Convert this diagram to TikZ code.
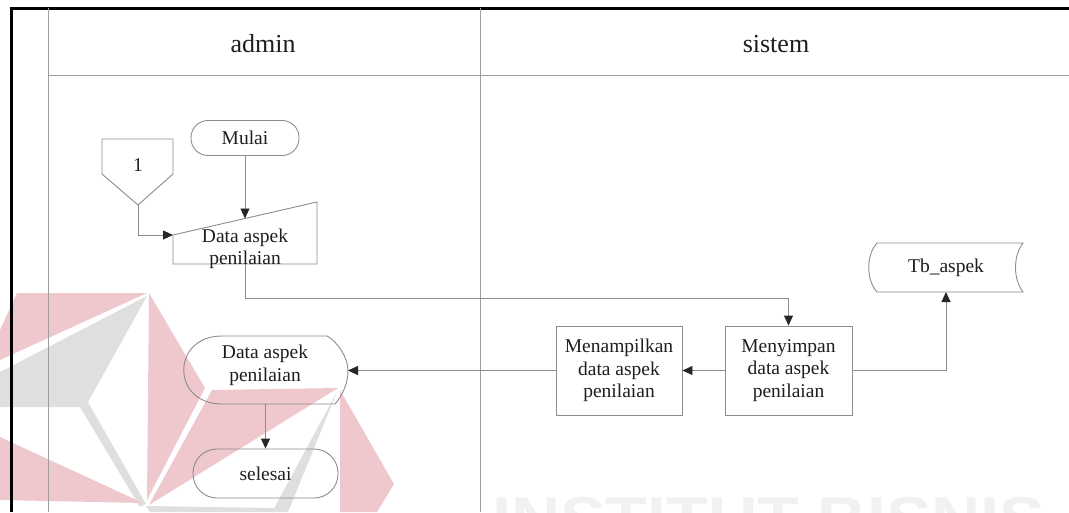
\documentclass[tikz,border=0pt]{standalone}
\usepackage{fontspec}
\setmainfont{Liberation Serif}
\newfontfamily\wmfont{Liberation Sans}
\usetikzlibrary{arrows.meta,calc}
\definecolor{linegray}{HTML}{8C8C8C}
\definecolor{lanegray}{HTML}{9E9E9E}
\definecolor{txt}{HTML}{1E1E1E}
\definecolor{tipc}{HTML}{262626}
\definecolor{wmred}{HTML}{EFC8CE}
\definecolor{wmgray}{HTML}{DFDFDF}
\definecolor{wmtext}{HTML}{F1F1F1}

\begin{document}
\begin{tikzpicture}[x=1pt,y=-1pt,
  lbl/.style={font=\fontsize{19.5}{22.5}\selectfont, text=txt, align=center, inner sep=0pt},
  hdr/.style={font=\fontsize{26}{30}\selectfont, text=txt, inner sep=0pt},
  outline/.style={draw=linegray, line width=0.9pt},
  flow/.style={draw=linegray, line width=0.9pt, -{Triangle[length=10pt,width=9pt,color=tipc]}},
  lane/.style={draw=lanegray, line width=1pt},
  term/.style={outline, lbl, rounded corners=17pt, minimum width=108pt, minimum height=35pt},
  procbox/.style={outline, lbl, minimum width=126pt, minimum height=89pt}
]
\useasboundingbox (0,0) rectangle (1069,512);

% faint logo watermark in the background
\begin{scope}
  \clip (0,0) rectangle (1069,512);
  \fill[wmred]  (17,293) -- (147,293) -- (0,360) -- (0,330) -- cycle;
  \fill[wmgray] (147,296) -- (0,372) -- (0,407) -- (80,407) -- (140,507) -- (146,504) -- (88,402) -- cycle;
  \fill[wmred]  (0,437) -- (143,503) -- (0,500) -- cycle;
  \fill[wmred]  (149,293) -- (205,388) -- (147,500) -- cycle;
  \fill[wmred]  (212,390) -- (338,388) -- (149,505) -- cycle;
  \fill[wmred]  (340,390) -- (394,484) -- (377,512) -- (340,512) -- cycle;
  \fill[wmgray] (337,392) -- (288,512) -- (272,512) -- cycle;
  \fill[wmgray] (146,506) -- (276,508) -- (274,512) -- (150,512) -- cycle;
  \node[anchor=north west, inner sep=0pt, text=wmtext,
        font=\wmfont\bfseries\fontsize{62}{62}\selectfont] (wm) at (492,497)
        {\scalebox{1.1}[1]{INSTITUT BISNIS}};
\end{scope}

% swimlane frame
\draw[line width=3pt, black] (11,512) -- (11,8) -- (1069,8);
\draw[lane] (48,8) -- (48,512);
\draw[lane] (48,75) -- (1069,75);
\draw[lane] (480,8) -- (480,512);
\node[hdr] (hadmin) at (263,44) {admin};
\node[hdr] (hsistem) at (776,44) {sistem};

% start and off-page connector
\node[term] (mulai) at (245,138) {Mulai};
\draw[outline] (102,139) -- (173,139) -- (173,174) -- (138,205) -- (102,174) -- cycle;
\node[lbl] (one) at (138,165) {1};
\coordinate (offpt) at (138,205);

% manual input
\coordinate (inTL) at (173,235);
\coordinate (inTR) at (317,202);
\coordinate (inBR) at (317,264);
\coordinate (inBL) at (173,264);
\draw[outline] (inTL) -- (inTR) -- (inBR) -- (inBL) -- cycle;
\node[lbl] (inp) at (245,249) {Data aspek\\penilaian};
\coordinate (inTop) at ($(inTL)!0.5!(inTR)$);
\coordinate (inB) at ($(inBL)!0.5!(inBR)$);

% processes
\node[procbox, minimum width=127pt] (simpan) at (788.5,370.5) {Menyimpan\\data aspek\\penilaian};
\node[procbox] (tampil) at (619,370.5) {Menampilkan\\data aspek\\penilaian};

% stored data
\draw[outline] (877,243) -- (1023,243) .. controls (1013,256) and (1013,279) .. (1023,292)
  -- (877,292) .. controls (866,280) and (866,255) .. (877,243) -- cycle;
\node[lbl] (tb) at (946,267.5) {Tb\_aspek};
\coordinate (tbB) at (946,292);

% display
\draw[outline] (222,336) -- (327,336) .. controls (338,342) and (348,358) .. (348,370.5)
  .. controls (348,384) and (342,396) .. (335,404) -- (222,404)
  .. controls (171,404) and (171,336) .. (222,336) -- cycle;
\node[lbl] (disp) at (265,365.5) {Data aspek\\penilaian};
\coordinate (dispR) at (348,370.5);
\coordinate (dispB) at (265.5,404);

% end
\node[term, minimum width=145pt, minimum height=49pt, rounded corners=24pt] (selesai) at (265.5,473.5) {selesai};

% connectors
\draw[flow] (mulai.south) -- (inTop);
\draw[flow] (offpt) |- (inTL);
\draw[flow] (inB) -- ++(0,34) -| (simpan.north);
\draw[flow] (simpan.east) -| (tbB);
\draw[flow] (simpan.west) -- (tampil.east);
\draw[flow] (tampil.west) -- (dispR);
\draw[flow] (dispB) -- (selesai.north);
\end{tikzpicture}
\end{document}
